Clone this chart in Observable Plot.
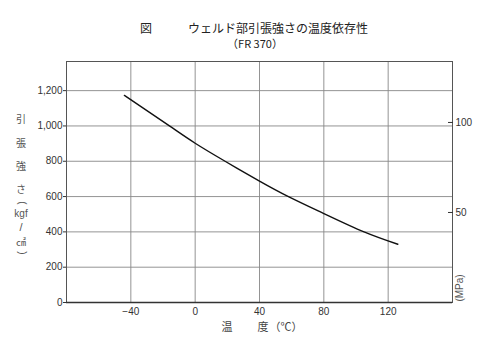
<!DOCTYPE html>
<html>
<head>
<meta charset="utf-8">
<script src="https://cdn.jsdelivr.net/npm/d3@7"></script>
<script src="https://cdn.jsdelivr.net/npm/@observablehq/plot@0.6"></script>
<style>
  html, body { margin: 0; padding: 0; background: #fff; }
</style>
</head>
<body>
<div id="chart"></div>
<script>
// Data
const temperatures = [-44, -16, 0, 18.6, 40, 58, 80, 105, 126];           // ℃
const tensileStrength = [1173, 1000, 902, 800, 688, 600, 504, 400, 330];  // kgf/cm²
const xTicks = [-40, 0, 40, 80, 120];
const yTicks = [0, 200, 400, 600, 800, 1000, 1200];
const mpaTicks = [50, 100];
const KGF_PER_MPA = 10.197;
const titleMain = "ウェルド部引張強さの温度依存性";
const titleFig = "図";
const titleSub = "（FR 370）";
const yLabelChars = ["引", "張", "強", "さ"];
const yUnit = ["(", "kgf", "/", "㎠", ")"];
const xLabelParts = ["温", "度", "（℃）"];
const rightLabel = "(MPa)";

const data = temperatures.map((t, i) => ({t, s: tensileStrength[i]}));

const chart = Plot.plot({
  width: 500,
  height: 354,
  marginLeft: 66,
  marginRight: 48,
  marginTop: 61,
  marginBottom: 52,
  style: {fontFamily: "'Liberation Sans', sans-serif", fontSize: "10px", color: "#333", background: "#fff"},
  x: {domain: [-80, 160]},
  y: {domain: [0, 1365]},
  marks: [
    Plot.gridX(xTicks, {stroke: "#888", strokeOpacity: 1, strokeWidth: 0.9}),
    Plot.gridY(yTicks.filter(d => d > 0), {stroke: "#888", strokeOpacity: 1, strokeWidth: 0.9}),
    Plot.frame({stroke: "#555", strokeWidth: 1}),
    Plot.ruleY([0], {stroke: "#333", strokeWidth: 1.3}),
    Plot.axisX(xTicks, {tickSize: 0, tickPadding: 5, label: null}),
    Plot.axisY(yTicks, {tickSize: 3, tickPadding: 1, label: null, tickFormat: d3.format(",")}),
    Plot.axisY(mpaTicks.map(d => d * KGF_PER_MPA), {anchor: "right", tickSize: -5, tickPadding: 8, label: null,
      tickFormat: d => String(Math.round(d / KGF_PER_MPA))}),
    Plot.line(data, {x: "t", y: "s", curve: "natural", stroke: "#111", strokeWidth: 1.4})
  ]
});

document.getElementById("chart").appendChild(chart);

const svg = d3.select(chart);
const cjk = "'Noto Sans CJK JP', sans-serif";
const latin = "'Liberation Sans', sans-serif";

// Title
svg.append("text").attr("x", 146).attr("y", 33).attr("text-anchor", "middle")
  .attr("font-family", cjk).attr("font-size", 12).attr("fill", "#222").text(titleFig);
svg.append("text").attr("x", 188).attr("y", 33).attr("text-anchor", "start")
  .attr("font-family", cjk).attr("font-size", 12).attr("fill", "#222")
  .attr("textLength", 180).attr("lengthAdjust", "spacingAndGlyphs").text(titleMain);
svg.append("text").attr("x", 255).attr("y", 48).attr("text-anchor", "middle")
  .attr("font-family", cjk).attr("font-size", 11).attr("fill", "#222").text(titleSub);

// Left vertical axis label
const yCharPos = [119, 143, 166, 189];
yLabelChars.forEach((c, i) => {
  svg.append("text").attr("x", 21).attr("y", yCharPos[i]).attr("dy", "0.35em")
    .attr("text-anchor", "middle").attr("font-family", cjk).attr("font-size", 10)
    .attr("fill", "#555").text(c);
});
const unitPos = [203, 213, 227, 242, 253];
const unitFont = [latin, latin, latin, cjk, latin];
const unitSize = [10, 10, 11, 10, 10];
yUnit.forEach((c, i) => {
  const t = svg.append("text")
    .attr("text-anchor", "middle").attr("dy", "0.35em")
    .attr("font-family", unitFont[i]).attr("font-size", unitSize[i])
    .attr("fill", "#555").text(c);
  if (c === "(" || c === ")") t.attr("transform", `translate(22,${unitPos[i]}) rotate(90)`);
  else t.attr("x", 21).attr("y", unitPos[i]);
});

// Right axis unit
svg.append("text").attr("transform", "translate(459,288) rotate(-90)")
  .attr("text-anchor", "middle").attr("dy", "0.35em")
  .attr("font-family", latin).attr("font-size", 10)
  .attr("fill", "#555").text(rightLabel);

// Bottom axis label
const xLabelX = [227, 263, 286];
xLabelParts.forEach((c, i) => {
  svg.append("text").attr("x", xLabelX[i]).attr("y", 327).attr("dy", "0.35em")
    .attr("text-anchor", "middle").attr("font-family", cjk).attr("font-size", 11)
    .attr("fill", "#444").text(c);
});
</script>
</body>
</html>
